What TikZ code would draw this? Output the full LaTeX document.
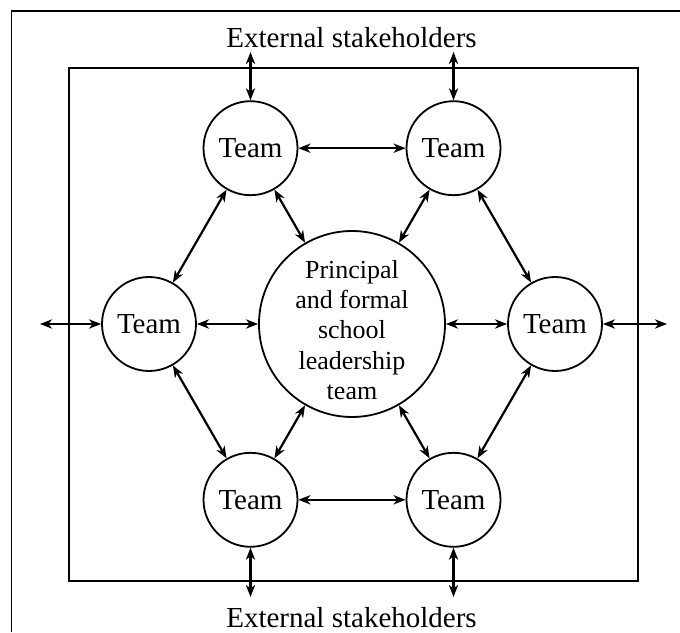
\documentclass[tikz,border=0pt]{standalone}
\usepackage{fontspec}
\setmainfont{Liberation Serif}
\usetikzlibrary{arrows.meta}

\tikzset{
  team/.style={draw=black,circle,line width=0.9pt,inner sep=0pt,minimum size=47pt,
    font=\fontsize{14.5}{16}\selectfont},
  lead/.style={draw=black,circle,line width=0.9pt,inner sep=-5pt,minimum size=93pt,
    align=center,font=\fontsize{13}{15.2}\selectfont},
  link/.style={line width=1.1pt,{Stealth[length=6pt,width=4.6pt,inset=1.8pt]}-{Stealth[length=6pt,width=4.6pt,inset=1.8pt]}},
  ext/.style={inner sep=0pt,anchor=base,font=\fontsize{14.5}{16}\selectfont}
}

\begin{document}
\begin{tikzpicture}[x=0.5pt,y=0.5pt]
        \useasboundingbox (0,0) rectangle (680,632);
        %% frames
        \draw[line width=0.9pt] (11.5,0) |- (680,621.3);
        \draw[line width=0.9pt] (69,51) rectangle (638,564);
        %% external stakeholders
        \node[ext] (extup) at (351.5,584) {External stakeholders};
        \node[ext] (extdn) at (351.5,5) {External stakeholders};

        \begin{scope}[shift={(352,308)}]
        \node[lead] (lead) at (0,0) {\rule{0pt}{15pt}Principal\\and formal\\school\\leadership\\team};
        %%% the ring of teams
        \foreach \a/\n in {0/r,60/ur,120/ul,180/l,240/ll,300/lr}
        \node[team] (\n) at (\a:203) {Team};
        \end{scope}

        %%% free ends
        \coordinate (oul) at (ul.north |- 0,580);
        \coordinate (our) at (ur.north |- 0,580);
        \coordinate (oll) at (ll.south |- 0,35);
        \coordinate (olr) at (lr.south |- 0,35);
        \coordinate (ol) at (40,308);
        \coordinate (or) at (667,308);

        %%% center to teams
        \foreach \n in {r,ur,ul,l,ll,lr}
        \draw[link] (lead) -- (\n);
        %%% teams to teams
        \foreach \p/\q in {r/ur,ur/ul,ul/l,l/ll,ll/lr,lr/r}
        \draw[link] (\p) -- (\q);
        %%% teams to outside
        \draw[link] (ul.north) -- (oul);
        \draw[link] (ur.north) -- (our);
        \draw[link] (ll.south) -- (oll);
        \draw[link] (lr.south) -- (olr);
        \draw[link] (l.west) -- (ol);
        \draw[link] (r.east) -- (or);
\end{tikzpicture}
\end{document}
